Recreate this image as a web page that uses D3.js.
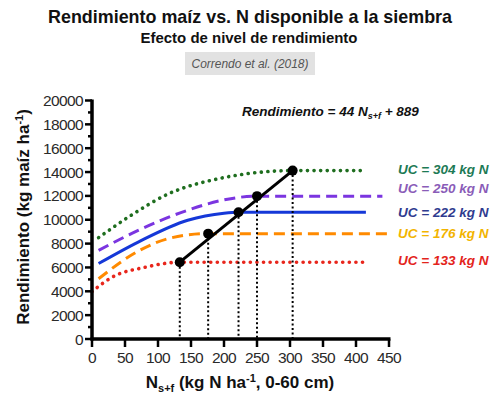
<!doctype html>
<html>
<head>
<meta charset="utf-8">
<script type='text/javascript' src='https://d3js.org/d3.v7.min.js'></script>
<style>
body { margin: 0; background: #fff; }
text { font-family: 'Liberation Sans', Arial, sans-serif; }
</style>
</head>
<body>
<script>
var width = 498, height = 398;

// curves: [N, yield]
var curveGreen  = [[10,8500],[60,10400],[115,12150],[195,13480],[250,13960],[304,14120],[415,14120]];
var curvePurple = [[10,7430],[70,9110],[145,10800],[203,11700],[250,11980],[440,11980]];
var curveBlue   = [[10,6330],[70,8130],[145,9960],[200,10550],[222,10630],[415,10630]];
var curveOrange = [[10,5050],[70,7370],[120,8480],[176,8835],[450,8835]];
var curveRed    = [[0,3970],[30,5170],[80,6010],[133,6440],[415,6440]];

var ucValues = [133, 176, 222, 250, 304];
var ucYields = [6440, 8835, 10630, 11980, 14120];
var ucLabels = ['UC = 304 kg N','UC = 250 kg N','UC = 222 kg N','UC = 176 kg N','UC = 133 kg N'];
var labelColors = ['#1d7a55','#8a5cb8','#2f3b8f','#f2b400','#e3241c'];

var xTicks = [0,50,100,150,200,250,300,350,400,450];
var yTicks = [0,2000,4000,6000,8000,10000,12000,14000,16000,18000,20000];

var svg = d3.select('body').append('svg').attr('width',width).attr('height',height);

var x = d3.scaleLinear().domain([0,450]).range([92,389]);
var y = d3.scaleLinear().domain([0,20000]).range([339,100.5]);

// titles
svg.append('text').attr('x',250).attr('y',23).attr('text-anchor','middle')
  .attr('font-size',19).attr('font-weight','bold').attr('fill','#111')
  .attr('textLength',404).attr('lengthAdjust','spacingAndGlyphs')
  .text('Rendimiento maíz vs. N disponible a la siembra');
svg.append('text').attr('x',249).attr('y',43).attr('text-anchor','middle')
  .attr('font-size',15).attr('font-weight','bold').attr('fill','#111')
  .attr('textLength',217).attr('lengthAdjust','spacingAndGlyphs')
  .text('Efecto de nivel de rendimiento');
svg.append('rect').attr('x',185).attr('y',52).attr('width',130).attr('height',23).attr('fill','#e2e2e2');
svg.append('text').attr('x',250).attr('y',68).attr('text-anchor','middle')
  .attr('font-size',12.5).attr('font-style','italic').attr('fill','#555')
  .attr('textLength',117).attr('lengthAdjust','spacingAndGlyphs')
  .text('Correndo et al. (2018)');

// curves
var line = d3.line().x(function(d){return x(d[0]);}).y(function(d){return y(d[1]);}).curve(d3.curveMonotoneX);
var curves = [
  {data: curveGreen,  color: '#1f6e1f', dash: '0.1,6.5', w: 3.6, cap: 'round'},
  {data: curvePurple, color: '#7b35e0', dash: '11,6', w: 3, cap: 'butt'},
  {data: curveBlue,   color: '#1538d8', dash: null, w: 3, cap: 'butt'},
  {data: curveOrange, color: '#ff8a00', dash: '11,6', w: 3, cap: 'butt'},
  {data: curveRed,    color: '#e8261c', dash: '0.1,6.5', w: 3.6, cap: 'round'}
];
svg.selectAll('path.curve').data(curves).join('path').attr('class','curve')
  .attr('d', function(d){return line(d.data);})
  .attr('fill','none').attr('stroke', function(d){return d.color;})
  .attr('stroke-width', function(d){return d.w;})
  .attr('stroke-linecap', function(d){return d.cap;})
  .attr('stroke-dasharray', function(d){return d.dash;});

// vertical dotted drops
svg.selectAll('line.drop').data(ucValues).join('line').attr('class','drop')
  .attr('x1', function(d){return x(d);}).attr('x2', function(d){return x(d);})
  .attr('y1', function(d,i){return y(ucYields[i]);}).attr('y2', y(0))
  .attr('stroke','#000').attr('stroke-width',2).attr('stroke-dasharray','2,2.5');

// black line through the points
var pts = ucValues.map(function(d,i){return [d, ucYields[i]];});
svg.append('path').attr('d', d3.line().x(function(d){return x(d[0]);}).y(function(d){return y(d[1]);})([pts[0], pts[pts.length-1]]))
  .attr('stroke','#000').attr('stroke-width',3).attr('fill','none');
svg.selectAll('circle.pt').data(pts).join('circle').attr('class','pt')
  .attr('cx', function(d){return x(d[0]);}).attr('cy', function(d){return y(d[1]);})
  .attr('r',5).attr('fill','#000');

// axes
var yMinor = d3.range(0,20001,1000);
svg.selectAll('line.ymin').data(yMinor).join('line').attr('class','ymin')
  .attr('x1',92).attr('x2', function(d){return d % 2000 === 0 ? 85 : 88;})
  .attr('y1', function(d){return y(d);}).attr('y2', function(d){return y(d);})
  .attr('stroke','#000').attr('stroke-width',2.5);
svg.append('line').attr('x1',92).attr('x2',92).attr('y1',y(20000)-1).attr('y2',y(0)+1.5)
  .attr('stroke','#000').attr('stroke-width',3.5);
svg.selectAll('text.ytick').data(yTicks).join('text').attr('class','ytick')
  .attr('x',83).attr('y', function(d){return y(d)+5.5;}).attr('text-anchor','end')
  .attr('font-size',15.5).attr('fill','#2a2a2a').attr('letter-spacing',-0.6)
  .text(function(d){return d;});

svg.append('line').attr('x1',90.5).attr('x2',x(450)+1.5).attr('y1',339).attr('y2',339)
  .attr('stroke','#000').attr('stroke-width',3.5);
svg.selectAll('line.xtick').data(xTicks).join('line').attr('class','xtick')
  .attr('x1', function(d){return x(d);}).attr('x2', function(d){return x(d);})
  .attr('y1',339).attr('y2',347).attr('stroke','#000').attr('stroke-width',2.5);
svg.selectAll('text.xtl').data(xTicks).join('text').attr('class','xtl')
  .attr('x', function(d){return x(d);}).attr('y',363).attr('text-anchor','middle')
  .attr('font-size',15.5).attr('fill','#2a2a2a').attr('letter-spacing',-0.6)
  .text(function(d){return d;});

// axis titles
var yt = svg.append('text').attr('transform','translate(29,217) rotate(-90)')
  .attr('text-anchor','middle').attr('font-size',17).attr('font-weight','bold').attr('fill','#111');
yt.append('tspan').text('Rendimiento (kg maíz ha');
yt.append('tspan').attr('dy',-6).attr('font-size',11).text('-1');
yt.append('tspan').attr('dy',6).text(')');

var xt = svg.append('text').attr('x',240).attr('y',388).attr('text-anchor','middle')
  .attr('font-size',17).attr('font-weight','bold').attr('fill','#111');
xt.append('tspan').text('N');
xt.append('tspan').attr('dy',4).attr('font-size',11).text('s+f');
xt.append('tspan').attr('dy',-4).text(' (kg N ha');
xt.append('tspan').attr('dy',-6).attr('font-size',11).text('-1');
xt.append('tspan').attr('dy',6).text(', 0-60 cm)');

// equation
var eq = svg.append('text').attr('x',242).attr('y',116)
  .attr('font-size',13.5).attr('font-weight','bold').attr('font-style','italic').attr('fill','#111');
eq.append('tspan').text('Rendimiento = 44 N');
eq.append('tspan').attr('dy',3).attr('font-size',9).text('s+f');
eq.append('tspan').attr('dy',-3).text(' + 889');

// UC labels
var labelY = [174, 193, 217, 238, 265];
svg.selectAll('text.uc').data(ucLabels).join('text').attr('class','uc')
  .attr('x',398).attr('y', function(d,i){return labelY[i];})
  .attr('font-size',13.5).attr('font-weight','bold').attr('font-style','italic')
  .attr('fill', function(d,i){return labelColors[i];})
  .text(function(d){return d;});
</script>
</body>
</html>
